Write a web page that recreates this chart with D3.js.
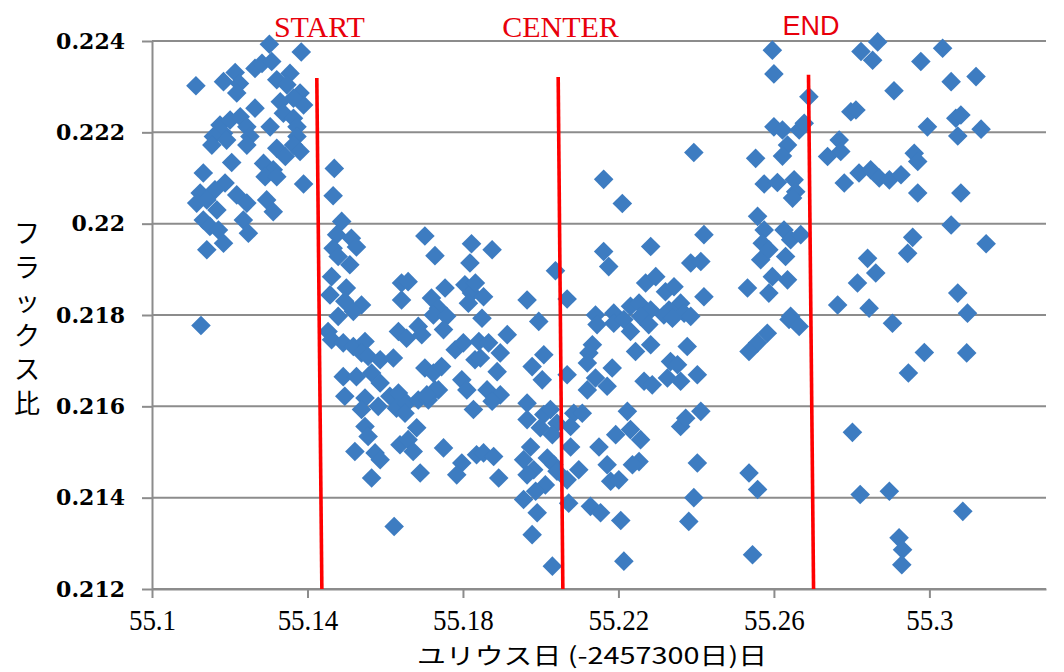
<!DOCTYPE html>
<html>
<head>
<meta charset="utf-8">
<script src="https://cdn.jsdelivr.net/npm/d3@7"></script>
<style>
  body { margin: 0; background: #fff; }
</style>
</head>
<body>
<div id="chart"></div>
<script>

// Julian day (-2457300) of each observation
var jd = [
  55.1302,55.1384,55.1113,55.1184,55.1214,55.1225,55.1218,55.1265,55.1283,55.1308,
  55.1321,55.1355,55.1347,55.1381,55.1390,55.1364,55.1330,55.1265,55.1338,55.1364,
  55.1373,55.1304,55.1175,55.1201,55.1227,55.1244,55.1184,55.1158,55.1154,55.1192,
  55.1252,55.1244,55.1373,55.1364,55.1321,55.1381,55.1343,55.1205,55.1287,55.1312,
  55.1291,55.1321,55.1390,55.1132,55.1124,55.1188,55.1162,55.1115,55.1141,55.1167,
  55.1218,55.1244,55.1295,55.1312,55.1132,55.1149,55.1171,55.1235,55.1248,55.1184,
  55.1141,55.1126,
  55.1469,55.1466,55.1488,55.1475,55.1513,55.1526,55.1466,55.1479,55.1509,55.1462,
  55.1458,55.1500,55.1496,55.1539,55.1518,55.1479,55.1453,55.1462,55.1492,55.1518,
  55.1548,55.1539,55.1556,55.1587,55.1621,55.1492,55.1526,55.1565,55.1587,55.1496,
  55.1548,55.1539,55.1582,55.1612,55.1634,55.1629,55.1655,55.1651,55.1685,55.1711,
  55.1737,55.1548,55.1556,55.1522,55.1574,55.1587,55.1565,55.1638,55.1659,55.1681,
  55.1672,55.1690,55.1623,55.1642,55.1659,55.1642,55.1634,55.1655,55.1685,55.1694,
  55.1702,55.1728,55.1754,55.1719,55.1737,55.1724,55.1758,55.1750,55.1702,55.1724,
  55.1745,55.1728,55.1707,55.1750,55.1797,55.1784,55.1822,55.1818,55.1805,55.1822,
  55.1814,55.1780,55.1801,55.1831,55.1797,55.1810,55.1827,55.1835,
  55.1849,55.1995,55.1841,55.1866,55.1914,55.1896,55.1845,55.2008,55.1978,55.2004,
  55.2068,55.1888,55.1862,55.1896,55.1875,55.1965,55.1965,55.2008,55.2025,55.2042,
  55.1999,55.2030,55.2085,55.2077,55.2077,55.1853,55.1879,55.1892,55.1956,55.1974,
  55.1982,55.1965,55.2017,55.2034,55.2042,55.2012,55.1987,55.1956,55.2068,55.2098,
  55.2072,55.2128,55.1991,55.1978,55.2030,55.1875,55.1832,55.1853,55.1965,55.2038,
  55.2068,
  55.2596,55.2600,55.2690,55.2600,55.2622,55.2665,55.2678,55.2635,55.2622,55.2553,
  55.2394,55.2162,55.2210,55.2575,55.2609,55.2652,55.2656,55.2648,55.2558,55.2575,
  55.2570,55.2566,55.2587,55.2626,55.2643,55.2669,55.2630,55.2596,55.2635,55.2587,
  55.2532,55.2643,55.2162,55.2175,55.2283,55.2420,55.2386,55.2412,55.2270,55.2296,
  55.2321,55.2343,55.2420,55.2360,55.2141,55.2188,55.2231,55.2253,55.2283,55.2330,
  55.2369,55.2386,55.2145,55.2188,55.2214,55.2231,55.2257,55.2278,55.2317,55.2339,
  55.2133,55.2124,55.2120,55.2184,55.2244,55.2283,55.2377,55.2334,55.2352,55.2141,
  55.2120,55.2171,55.2266,55.2287,55.2326,55.2360,55.2403,55.2558,55.2583,55.2536,
  55.2639,55.2665,55.2223,55.2107,55.2231,55.2193,55.2257,55.2253,55.2236,55.2150,
  55.2171,55.2180,55.2201,55.2360,55.2373,55.2412,55.2403,55.2536,55.2558,55.2154,
  55.2206,55.2394,55.2381,55.2214,55.2545,
  55.2867,55.2824,55.2854,55.3034,55.2978,55.3056,55.3120,55.2909,55.2798,55.2811,
  55.3068,55.3081,55.2995,55.3073,55.3133,55.2768,55.2772,55.2738,55.2781,55.2819,
  55.2849,55.2871,55.2897,55.2927,55.2961,55.2970,55.2970,55.3081,55.3056,55.2957,
  55.2944,55.3146,55.2841,55.2862,55.2815,55.3073,55.2764,55.2845,55.3098,55.2905,
  55.2987,55.3096,55.2946,55.2802,55.2822,55.2897,55.3086,55.2922,55.2931,55.2929
];

// flux ratio of each observation
var flux = [
  0.22393,0.22376,0.22302,0.22311,0.22331,0.22307,0.22286,0.22340,0.22351,0.22355,
  0.22315,0.22329,0.22304,0.22286,0.22260,0.22275,0.22267,0.22253,0.22242,0.22231,
  0.22212,0.22212,0.22216,0.22227,0.22234,0.22212,0.22198,0.22191,0.22172,0.22183,
  0.22191,0.22172,0.22191,0.22172,0.22165,0.22158,0.22147,0.22134,0.22132,0.22118,
  0.22103,0.22103,0.22087,0.22111,0.22067,0.22089,0.22074,0.22045,0.22052,0.22030,
  0.22063,0.22045,0.22052,0.22026,0.22008,0.21994,0.21986,0.22008,0.21979,0.21957,
  0.21943,0.21777,
  0.22121,0.22061,0.22005,0.21976,0.21968,0.21949,0.21946,0.21928,0.21910,0.21884,
  0.21844,0.21859,0.21830,0.21822,0.21808,0.21797,0.21764,0.21746,0.21739,0.21731,
  0.21742,0.21717,0.21709,0.21702,0.21706,0.21665,0.21665,0.21673,0.21651,0.21622,
  0.21618,0.21593,0.21600,0.21622,0.21629,0.21596,0.21607,0.21585,0.21614,0.21614,
  0.21636,0.21556,0.21534,0.21501,0.21498,0.21483,0.21443,0.21516,0.21527,0.21553,
  0.21501,0.21454,0.21337,0.21870,0.21873,0.21833,0.21764,0.21749,0.21775,0.21757,
  0.21973,0.21930,0.21859,0.21837,0.21815,0.21800,0.21797,0.21768,0.21684,0.21673,
  0.21687,0.21636,0.21625,0.21509,0.21476,0.21450,0.21956,0.21914,0.21866,0.21848,
  0.21826,0.21724,0.21739,0.21702,0.21658,0.21636,0.21593,0.21494,
  0.21793,0.21786,0.21742,0.21739,0.21757,0.21717,0.21706,0.21713,0.21687,0.21658,
  0.21669,0.21676,0.21636,0.21625,0.21611,0.21607,0.21571,0.21582,0.21593,0.21563,
  0.21553,0.21538,0.21585,0.21556,0.21511,0.21498,0.21490,0.21443,0.21483,0.21511,
  0.21461,0.21450,0.21487,0.21472,0.21458,0.21428,0.21414,0.21396,0.21439,0.21461,
  0.21388,0.21381,0.21367,0.21319,0.21250,0.21943,0.21870,0.21840,0.21833,0.21897,
  0.21835,
  0.22380,0.22328,0.22278,0.22212,0.22205,0.22205,0.22220,0.22172,0.22148,0.22143,
  0.22156,0.22097,0.22044,0.22087,0.22090,0.22096,0.22070,0.22056,0.22016,0.21986,
  0.21957,0.21921,0.21943,0.21986,0.21965,0.21976,0.21928,0.21884,0.21877,0.21848,
  0.21859,0.21797,0.21939,0.21906,0.21950,0.21976,0.21914,0.21917,0.21870,0.21884,
  0.21851,0.21862,0.21840,0.21826,0.21800,0.21804,0.21819,0.21826,0.21811,0.21811,
  0.21804,0.21797,0.21779,0.21782,0.21790,0.21764,0.21797,0.21779,0.21800,0.21793,
  0.21735,0.21717,0.21695,0.21684,0.21720,0.21735,0.21731,0.21698,0.21691,0.21662,
  0.21636,0.21644,0.21655,0.21647,0.21662,0.21655,0.21669,0.21739,0.21760,0.21720,
  0.21790,0.21775,0.21589,0.21585,0.21549,0.21538,0.21527,0.21479,0.21472,0.21511,
  0.21472,0.21436,0.21439,0.21556,0.21574,0.21589,0.21476,0.21454,0.21418,0.21367,
  0.21350,0.21400,0.21348,0.21261,0.21275,
  0.22398,0.22377,0.22358,0.22384,0.22355,0.22311,0.22322,0.22291,0.22245,0.22249,
  0.22231,0.22238,0.22212,0.22192,0.22207,0.22183,0.22158,0.22147,0.22089,0.22111,
  0.22118,0.22100,0.22096,0.22107,0.22154,0.22136,0.22067,0.22067,0.21997,0.21970,
  0.21935,0.21956,0.21924,0.21892,0.21870,0.21848,0.21822,0.21815,0.21804,0.21782,
  0.21718,0.21717,0.21673,0.21543,0.21407,0.21414,0.21370,0.21312,0.21286,0.21253
];

var xTicks = [55.1, 55.14, 55.18, 55.22, 55.26, 55.3];
var yTicks = [0.212, 0.214, 0.216, 0.218, 0.22, 0.222, 0.224];

// transit markers (hand drawn red lines)
var eventNames = ["START", "CENTER", "END"];
var eventTopJD = [55.1424, 55.2045, 55.2689];
var eventBottomJD = [55.1437, 55.2057, 55.2702];
var eventTopFlux = [0.22319, 0.22321, 0.22326];

var xTitle = "ユリウス日 (-2457300日)日";
var yTitle = ["フ", "ラ", "ッ", "ク", "ス", "比"];

var margin = {top: 41, right: 18, bottom: 83, left: 152},
    width = 1064 - margin.left - margin.right,
    height = 672 - margin.top - margin.bottom;

var svg = d3.select("#chart").append("svg")
    .attr("width", width + margin.left + margin.right)
    .attr("height", height + margin.top + margin.bottom)
  .append("g")
    .attr("transform", "translate(" + margin.left + "," + margin.top + ")");

var x = d3.scaleLinear()
    .domain([55.1, 55.33])
    .range([0, width]);

var y = d3.scaleLinear()
    .domain([0.212, 0.224])
    .range([height, 0]);

var gridColor = "#8c8c8c";

// horizontal grid
svg.append("g")
    .selectAll("line")
    .data(yTicks)
    .enter().append("line")
    .attr("x1", 0)
    .attr("x2", width)
    .attr("y1", function(d) { return y(d); })
    .attr("y2", function(d) { return y(d); })
    .attr("stroke", gridColor)
    .attr("stroke-width", 2);

// y axis
var yAxis = svg.append("g")
    .call(d3.axisLeft(y)
        .tickValues(yTicks)
        .tickSize(10)
        .tickSizeOuter(0)
        .tickPadding(17)
        .tickFormat(function(d) { return String(+d.toFixed(3)); }));
yAxis.selectAll("path, line").attr("stroke", gridColor).attr("stroke-width", 2);
yAxis.selectAll("text")
    .attr("fill", "#000")
    .style("font-family", "'DejaVu Serif', serif")
    .style("font-weight", "bold")
    .style("font-size", "22px");

// x axis
var xAxis = svg.append("g")
    .attr("transform", "translate(0," + height + ")")
    .call(d3.axisBottom(x)
        .tickValues(xTicks)
        .tickSize(9)
        .tickSizeOuter(0)
        .tickFormat(function(d) { return String(+d.toFixed(2)); }));
xAxis.selectAll("path, line").attr("stroke", gridColor).attr("stroke-width", 2);
xAxis.selectAll("text")
    .attr("fill", "#000")
    .attr("y", 41)
    .attr("dy", null)
    .attr("transform", "scale(0.9,1)")
    .style("font-family", "'Liberation Serif', serif")
    .style("font-size", "30px");

// points
var r = 9.8;
var diamond = "M0," + (-r) + "L" + r + ",0L0," + r + "L" + (-r) + ",0Z";

svg.append("g")
    .selectAll("path")
    .data(d3.range(jd.length))
    .enter().append("path")
    .attr("d", diamond)
    .attr("transform", function(i) { return "translate(" + x(jd[i]) + "," + y(flux[i]) + ")"; })
    .attr("fill", "#3d7cc1");

// red event lines
var ev = svg.append("g");
ev.selectAll("line")
    .data(eventNames)
    .enter().append("line")
    .attr("x1", function(d, i) { return x(eventTopJD[i]); })
    .attr("y1", function(d, i) { return y(eventTopFlux[i]); })
    .attr("x2", function(d, i) { return x(eventBottomJD[i]); })
    .attr("y2", y(0.212))
    .attr("stroke", "#f00")
    .attr("stroke-width", 3.6);

ev.selectAll("text")
    .data(eventNames)
    .enter().append("text")
    .attr("x", function(d, i) { return x((eventTopJD[i] + eventBottomJD[i]) / 2); })
    .attr("y", function(d) { return d == "END" ? -6 : -4; })
    .attr("text-anchor", "middle")
    .attr("fill", "#e8000b")
    .style("font-family", function(d) { return d == "END" ? "'Liberation Sans', sans-serif" : "'Liberation Serif', serif"; })
    .style("font-size", function(d) { return d == "END" ? "27px" : "30px"; })
    .text(function(d) { return d; });

// axis titles
svg.append("text")
    .attr("x", 440)
    .attr("y", height + 75)
    .attr("text-anchor", "middle")
    .attr("textLength", 350)
    .attr("lengthAdjust", "spacingAndGlyphs")
    .style("font-family", "'Noto Sans CJK JP', sans-serif")
    .style("font-size", "23px")
    .attr("fill", "#000")
    .text(xTitle);

svg.append("text")
    .attr("text-anchor", "middle")
    .style("font-family", "'Noto Sans CJK JP', sans-serif")
    .style("font-size", "26px")
    .attr("fill", "#000")
    .selectAll("tspan")
    .data(yTitle)
    .enter().append("tspan")
    .attr("x", -125)
    .attr("y", function(d, i) { return 202 + i * 34; })
    .text(function(d) { return d; });

</script>
</body>
</html>
